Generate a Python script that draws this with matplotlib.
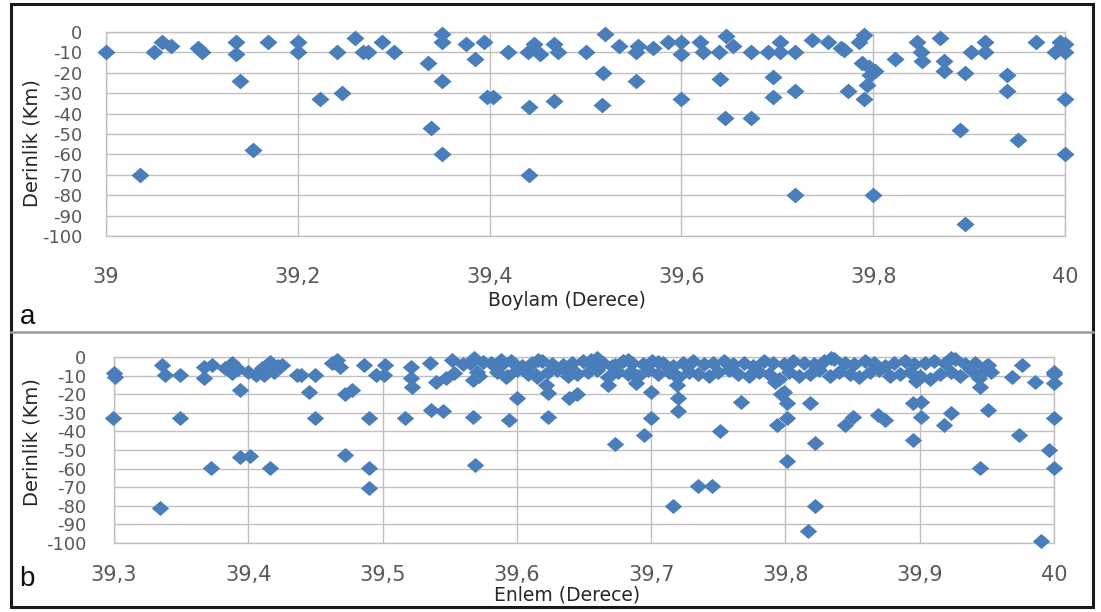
import matplotlib
matplotlib.use('Agg')
import matplotlib.pyplot as plt
from matplotlib.lines import Line2D
from matplotlib.patches import Rectangle

W, H = 1101, 612

# depth vs longitude (panel a)
boylam = [39.0, 39.035, 39.05, 39.058, 39.068, 39.096, 39.10, 39.136, 39.136, 39.14,
          39.153, 39.169, 39.2, 39.2, 39.223, 39.241, 39.246, 39.26, 39.268, 39.273,
          39.288, 39.30, 39.336, 39.339, 39.35, 39.35, 39.35, 39.35, 39.375, 39.385,
          39.394, 39.397, 39.404, 39.419, 39.44, 39.441, 39.441, 39.446, 39.453, 39.467,
          39.471, 39.467, 39.50, 39.52, 39.518, 39.517, 39.535, 39.553, 39.553, 39.555,
          39.57, 39.586, 39.60, 39.60, 39.60, 39.619, 39.623, 39.639, 39.64, 39.647,
          39.645, 39.654, 39.673, 39.673, 39.69, 39.696, 39.696, 39.703, 39.703, 39.718,
          39.718, 39.718, 39.736, 39.753, 39.766, 39.77, 39.774, 39.785, 39.79, 39.788,
          39.79, 39.796, 39.797, 39.794, 39.802, 39.80, 39.823, 39.846, 39.85, 39.851,
          39.87, 39.874, 39.874, 39.89, 39.896, 39.896, 39.902, 39.917, 39.917, 39.94,
          39.94, 39.951, 39.97, 39.99, 39.995, 40.0, 40.0, 40.0, 40.0]
boylam_derinlik = [-10, -70, -10, -5, -7, -8, -10, -5, -11, -24,
                   -58, -5, -5, -10, -33, -10, -30, -3, -10, -10,
                   -5, -10, -15, -47, -1, -5, -24, -60, -6, -13,
                   -5, -32, -32, -10, -10, -37, -70, -6, -11, -6,
                   -10, -34, -10, -1, -20, -36, -7, -10, -24, -7,
                   -8, -5, -5, -11, -33, -5, -10, -10, -23, -2,
                   -42, -7, -10, -42, -10, -22, -32, -5, -10, -10,
                   -29, -80, -4, -5, -8, -9, -29, -5, -1.5, -15,
                   -33, -17, -21, -26, -19, -80, -13, -5, -10, -14,
                   -3, -14, -19, -48, -20, -94, -10, -5, -10, -21,
                   -29, -53, -5, -10, -5, -6, -10, -33, -60]

# depth vs latitude (panel b)
enlem = [39.300, 39.301, 39.299, 39.336, 39.338, 39.349, 39.349, 39.334, 39.367, 39.367,
         39.373, 39.372, 39.383, 39.388, 39.388, 39.392, 39.394, 39.394, 39.401, 39.400,
         39.406, 39.410, 39.412, 39.416, 39.419, 39.422, 39.425, 39.416, 39.436,
         39.439, 39.45, 39.445, 39.45, 39.462, 39.466, 39.468, 39.472, 39.472, 39.477,
         39.486, 39.49, 39.49, 39.49, 39.495, 39.501, 39.502, 39.517, 39.521, 39.521,
         39.522, 39.535, 39.536, 39.54, 39.545, 39.547, 39.552, 39.553, 39.56, 39.565,
         39.567, 39.568, 39.57, 39.567, 39.569, 39.572,
         39.575, 39.588, 39.592, 39.594, 39.600, 39.610, 39.614, 39.616, 39.622, 39.623,
         39.623, 39.634, 39.639, 39.645, 39.643, 39.655, 39.660, 39.668, 39.673, 39.673,
         39.683, 39.688, 39.689, 39.695, 39.70, 39.70, 39.705, 39.716, 39.718, 39.720,
         39.72, 39.719, 39.735, 39.745, 39.751, 39.767, 39.792, 39.797, 39.801, 39.794,
         39.801, 39.801, 39.818, 39.822, 39.822, 39.817, 39.844, 39.85, 39.834, 39.799,
         39.869, 39.874, 39.895, 39.895, 39.901, 39.901, 39.923, 39.918, 39.945, 39.944,
         39.951, 39.951, 39.945, 39.969, 39.974, 39.976, 39.986, 39.996, 40.0, 40.0,
         40.0, 40.0, 39.99, 39.923, 39.897, 40.0,
         # shallow cluster, upper row
         39.581, 39.589, 39.596, 39.604, 39.611, 39.619, 39.626, 39.634, 39.641, 39.649,
         39.656, 39.664, 39.671, 39.679, 39.686, 39.694, 39.701, 39.709, 39.716, 39.724,
         39.731, 39.739, 39.746, 39.754, 39.761, 39.769, 39.776, 39.784, 39.791, 39.799,
         39.806, 39.814, 39.821, 39.829, 39.836, 39.844, 39.851, 39.859, 39.866, 39.874,
         39.881, 39.889, 39.896, 39.904, 39.911, 39.919, 39.926, 39.934, 39.941, 39.949,
         # shallow cluster, lower row
         39.585, 39.593, 39.600, 39.608, 39.615, 39.623, 39.630, 39.638, 39.645, 39.653,
         39.660, 39.668, 39.675, 39.683, 39.690, 39.698, 39.705, 39.713, 39.720, 39.728,
         39.735, 39.743, 39.750, 39.758, 39.765, 39.773, 39.780, 39.788, 39.795, 39.803,
         39.810, 39.818, 39.825, 39.833, 39.840, 39.848, 39.855, 39.863, 39.870, 39.878,
         39.885, 39.893, 39.900, 39.908, 39.915, 39.923, 39.930, 39.938, 39.945, 39.953]
enlem_derinlik = [-8.8, -10.5, -33, -4.3, -9.6, -9.6, -33, -81, -11.4, -5.2,
                  -4.3, -59.6, -6, -3.4, -8.8, -6.5, -17.7, -54, -53, -7.9,
                  -9.6, -6, -9.5, -2.5, -7.9, -5, -4.3, -59.6, -9.6,
                  -9.6, -9.6, -18.6, -33, -3, -1.6, -5.2, -52.5, -20, -17.7,
                  -4.3, -33, -59.6, -70.4, -9.6, -9.6, -4.3, -33, -5.2, -11.4,
                  -15.9, -3.4, -28.4, -13.2, -29.3, -11.4, -1.6, -8.8, -4, -3,
                  -32, -0.7, -7.9, -12.3, -57.9, -10,
                  -2.5, -1.6, -10.5, -33.8, -22, -4.3, -9.6, -1.6, -15, -19.5,
                  -32, -4.3, -22, -20, -7.9, -1.6, -0.7, -15, -47, -4.3,
                  -1.6, -9.6, -14, -41.8, -33, -18.6, -2.5, -80, -9.6, -22,
                  -29.3, -15, -69.5, -69.5, -40, -24, -13.2, -20, -24.8, -36.4,
                  -33, -56, -24.8, -46, -80, -93.6, -36.4, -32, -0.5, -18.6,
                  -31, -33.8, -44.5, -24.8, -24, -32, -30, -36.4, -15.9, -11.4,
                  -4.3, -28.4, -59.6, -10.5, -41.8, -4.3, -13.2, -49.8, -7.9, -14,
                  -33, -59.6, -99, -0.7, -13, -9,
                  -3, -4, -2, -5, -3, -2, -4, -6, -3, -2,
                  -4, -3, -5, -2, -3, -4, -2, -3, -5, -3,
                  -2, -4, -3, -2, -4, -3, -5, -2, -3, -4,
                  -2, -3, -4, -2, -1, -3, -4, -2, -3, -5,
                  -3, -2, -4, -3, -2, -3, -1, -4, -3, -5,
                  -8, -10, -7, -9, -11, -8, -7, -10, -9, -8,
                  -7, -11, -8, -9, -10, -7, -9, -8, -11, -8,
                  -9, -10, -8, -7, -9, -10, -8, -9, -12, -8,
                  -10, -9, -7, -10, -8, -9, -11, -8, -7, -10,
                  -9, -8, -10, -12, -9, -8, -10, -7, -9, -8]

boylam_ticks = [39.0, 39.2, 39.4, 39.6, 39.8, 40.0]
boylam_labels = ['39', '39,2', '39,4', '39,6', '39,8', '40']
enlem_ticks = [39.3, 39.4, 39.5, 39.6, 39.7, 39.8, 39.9, 40.0]
enlem_labels = ['39,3', '39,4', '39,5', '39,6', '39,7', '39,8', '39,9', '40']
depth_ticks = [0, -10, -20, -30, -40, -50, -60, -70, -80, -90, -100]

BLUE = '#4a7ebb'
GRID = '#c0c0c0'
TICK = '#595959'
DIAMOND = [(0, 1), (1.15, 0), (0, -1), (-1.15, 0)]

fig = plt.figure(figsize=(W / 100, H / 100), dpi=100)


def px_axes(left, top, right, bottom):
    return fig.add_axes([left / W, 1 - bottom / H, (right - left) / W, (bottom - top) / H])


def style(ax, xlim, ticks, labels, xpad, ypad, msize, x, y):
    ax.scatter(x, y, marker=DIAMOND, s=msize ** 2, c=BLUE, linewidths=0,
               clip_on=False, zorder=3)
    ax.set_xlim(*xlim)
    ax.set_ylim(-100, 0)
    ax.set_xticks(ticks)
    ax.set_xticklabels(labels)
    ax.set_yticks(depth_ticks)
    ax.set_yticklabels([str(t) for t in depth_ticks])
    ax.grid(True, color=GRID, lw=1)
    ax.tick_params(axis='x', length=0, pad=xpad, labelsize=15, labelcolor=TICK)
    ax.tick_params(axis='y', length=0, pad=ypad, labelsize=13, labelcolor=TICK)
    for s in ax.spines.values():
        s.set_color(GRID)
        s.set_linewidth(1)
    ax.set_axisbelow(True)


ax1 = px_axes(106, 32, 1065, 236)
style(ax1, (39.0, 40.0), boylam_ticks, boylam_labels, 22, 17, 13, boylam, boylam_derinlik)

ax2 = px_axes(114, 357, 1054, 543)
style(ax2, (39.3, 40.0), enlem_ticks, enlem_labels, 16, 20, 12.5, enlem, enlem_derinlik)

# axis titles
fig.text(32 / W, 1 - 143 / H, 'Derinlik (Km)', rotation=90, ha='center', va='center',
         fontsize=14, color='#262626')
fig.text(32 / W, 1 - 442 / H, 'Derinlik (Km)', rotation=90, ha='center', va='center',
         fontsize=14, color='#262626')
fig.text(567 / W, 1 - 300 / H, 'Boylam (Derece)', ha='center', va='center',
         fontsize=13.5, color='#262626')
fig.text(567 / W, 1 - 595 / H, 'Enlem (Derece)', ha='center', va='center',
         fontsize=13.5, color='#262626')

# panel letters
fig.text(28 / W, 1 - 317 / H, 'a', ha='center', va='center', fontsize=20,
         family='Liberation Sans', color='#111111')
fig.text(27 / W, 1 - 579 / H, 'b', ha='center', va='center', fontsize=20,
         family='Liberation Sans', color='#111111')

# outer frame and separator between the panels
fig.add_artist(Rectangle((11 / W, 1 - 607 / H), (1093 - 11) / W, (607 - 4) / H,
                         transform=fig.transFigure, fill=False, ec='#1a1a1a', lw=2.2))
fig.add_artist(Line2D([11 / W, 1093 / W], [1 - 332 / H, 1 - 332 / H],
                      transform=fig.transFigure, color='#9a9a9a', lw=1.8))

fig.savefig('out.png', dpi=100)
